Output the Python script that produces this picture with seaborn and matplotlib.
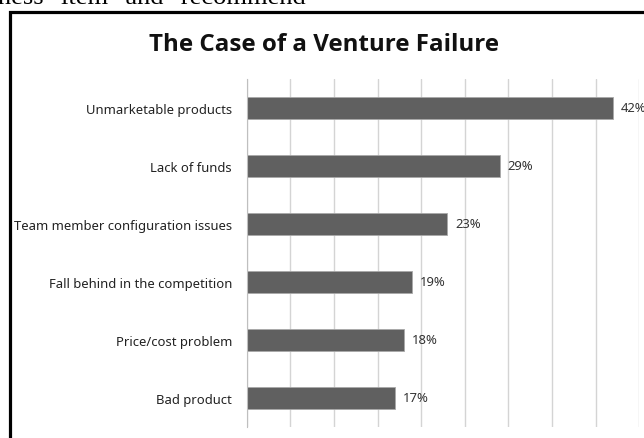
import matplotlib
matplotlib.use("Agg")
import matplotlib.pyplot as plt
import matplotlib.patches as patches
import numpy as np
import pandas as pd
import seaborn as sns

sns.set_theme(style="white")
plt.rcParams['font.family'] = ['Noto Sans', 'DejaVu Sans']

# data
causes = [
    "Unmarketable products",
    "Lack of funds",
    "Team member configuration issues",
    "Fall behind in the competition",
    "Price/cost problem",
    "Bad product",
]
shares = [42, 29, 23, 19, 18, 17]
x_ticks = [0, 5, 10, 15, 20, 25, 30, 35, 40, 45]

df = pd.DataFrame({"cause": causes, "share": shares})

W, H = 644, 439
fig = plt.figure(figsize=(W / 100, H / 100), dpi=100)
ax = fig.add_axes([246.7 / W, 1 - 428 / H, (639.3 - 246.7) / W, (428 - 80) / H])

sns.barplot(data=df, y="cause", x="share", orient="h", color="#606060",
            edgecolor="#a8a8a8", linewidth=0.6, width=0.374, saturation=1, ax=ax)

ax.set_xlim(0, 45)
ax.set_ylim(len(causes) - 0.5, -0.5)
ax.set_xticks(x_ticks)
ax.set_xticklabels([])
ax.tick_params(axis="x", length=0)
ax.grid(axis="x", color="#d4d4d4", linewidth=1.0)
ax.set_axisbelow(True)

ax.set_yticks(range(len(causes)))
ax.set_yticklabels(causes, fontsize=9.4, color="#222222")
ax.set_yticks(np.arange(-0.5, len(causes), 1.0), minor=True)
ax.tick_params(axis="y", which="major", length=0, pad=10.5)
ax.tick_params(axis="y", which="minor", length=3.6, width=0.8, color="#bfbfbf", direction="out")

for s in ["top", "right", "bottom"]:
    ax.spines[s].set_visible(False)
ax.spines["left"].set_color("#bfbfbf")
ax.spines["left"].set_linewidth(0.8)
ax.set_xlabel("")
ax.set_ylabel("")

for c in ax.containers:
    ax.bar_label(c, fmt="%d%%", padding=5.5, fontsize=9.4, color="#333333")

fig.text(324 / W, 1 - 45 / H, "The Case of a Venture Failure", ha="center", va="center",
         fontsize=17.4, fontweight="bold", family=["Open Sans", "DejaVu Sans"], color="#111111")

# page text above the chart box, cut off by the crop
fig.text(-2 / W, 1 - 4 / H, 'ness" item" and "recommend', ha="left", va="baseline",
         fontsize=19, family=["Liberation Serif"], color="black")

# chart frame (only left and top edges visible in the crop)
frame = patches.Rectangle((10 / W, -0.2), 1.2, 1 - 12.5 / H + 0.2, transform=fig.transFigure,
                          fill=False, edgecolor="black", linewidth=2.3, clip_on=False)
fig.patches.append(frame)

fig.savefig("out.png", dpi=100)
